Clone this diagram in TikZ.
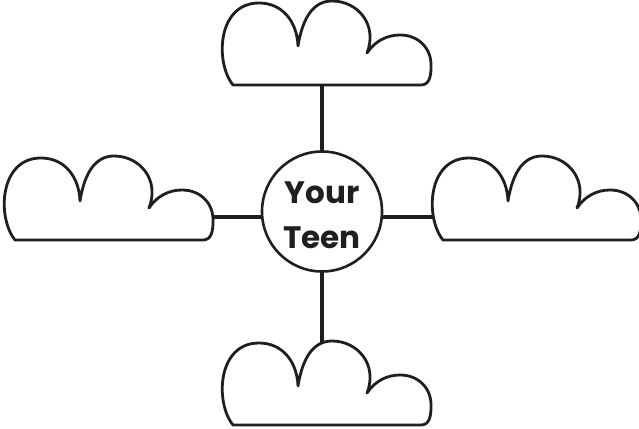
\documentclass[tikz,border=0pt]{standalone}
\usepackage{fontspec}
\setmainfont{Poppins}
\tikzset{
  outline/.style={draw=black!88, line width=2.8pt, line join=round},
  conn/.style={draw=black!88, line width=3.2pt},
  hub/.style={circle, draw=black!88, line width=2.6pt, fill=white, minimum size=120pt, inner sep=0pt},
  hubtext/.style={font=\bfseries\fontsize{31}{45}\selectfont, align=center, text=black!88},
}
\newcommand{\cloudat}[1]{%
  \draw[outline, fill=white, shift={#1}]
    (0,0) .. controls (-18,22) and (-16,82) .. (26,82)
    .. controls (49,82) and (64,64) .. (65,39)
    .. controls (70,70) and (82,84) .. (99,84)
    .. controls (125,84) and (145,60) .. (134,32)
    .. controls (142,44) and (154,50) .. (167,50)
    .. controls (186,50) and (199,36) .. (198,18)
    .. controls (198,8) and (196,0) .. (188,0) -- cycle;
}
\begin{document}
\begin{tikzpicture}[x=1pt,y=1pt]
\useasboundingbox (0,0) rectangle (639,428);
% attachment coordinates
\coordinate (cc) at (322,216.5);
\coordinate (topin) at (322,350);
\coordinate (botin) at (322,75);
\coordinate (leftin) at (205,211);
\coordinate (rightin) at (445,211);
% connectors
\draw[conn] (topin) -- (cc);
\draw[conn] (botin) -- (cc);
\draw[conn] (leftin) -- (leftin -| cc);
\draw[conn] (rightin) -- (rightin -| cc);
% clouds
\cloudat{(233,343)}
\cloudat{(15,188)}
\cloudat{(443,188)}
\cloudat{(233,3)}
% hub
\node[hub] (c) at (cc) {};
\node[hubtext] (t) at (322,213) {Your\\Teen};
\end{tikzpicture}
\end{document}
